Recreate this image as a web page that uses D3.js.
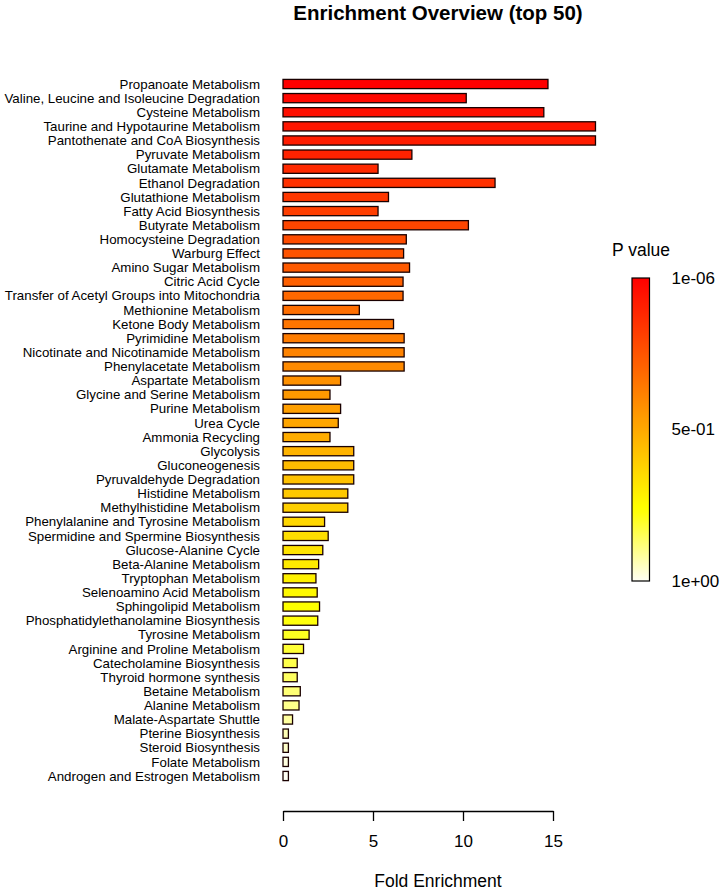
<!DOCTYPE html>
<html>
<head>
<meta charset="utf-8">
<script src="https://cdn.jsdelivr.net/npm/d3@7"></script>
<style>
  html, body { margin: 0; padding: 0; background: #ffffff; }
  svg { display: block; font-family: "Liberation Sans", Arial, sans-serif; }
</style>
</head>
<body>
<svg id="chart" width="720" height="893"></svg>
<script>
// ---------- data ----------
const categories = [
  "Propanoate Metabolism",
  "Valine, Leucine and Isoleucine Degradation",
  "Cysteine Metabolism",
  "Taurine and Hypotaurine Metabolism",
  "Pantothenate and CoA Biosynthesis",
  "Pyruvate Metabolism",
  "Glutamate Metabolism",
  "Ethanol Degradation",
  "Glutathione Metabolism",
  "Fatty Acid Biosynthesis",
  "Butyrate Metabolism",
  "Homocysteine Degradation",
  "Warburg Effect",
  "Amino Sugar Metabolism",
  "Citric Acid Cycle",
  "Transfer of Acetyl Groups into Mitochondria",
  "Methionine Metabolism",
  "Ketone Body Metabolism",
  "Pyrimidine Metabolism",
  "Nicotinate and Nicotinamide Metabolism",
  "Phenylacetate Metabolism",
  "Aspartate Metabolism",
  "Glycine and Serine Metabolism",
  "Purine Metabolism",
  "Urea Cycle",
  "Ammonia Recycling",
  "Glycolysis",
  "Gluconeogenesis",
  "Pyruvaldehyde Degradation",
  "Histidine Metabolism",
  "Methylhistidine Metabolism",
  "Phenylalanine and Tyrosine Metabolism",
  "Spermidine and Spermine Biosynthesis",
  "Glucose-Alanine Cycle",
  "Beta-Alanine Metabolism",
  "Tryptophan Metabolism",
  "Selenoamino Acid Metabolism",
  "Sphingolipid Metabolism",
  "Phosphatidylethanolamine Biosynthesis",
  "Tyrosine Metabolism",
  "Arginine and Proline Metabolism",
  "Catecholamine Biosynthesis",
  "Thyroid hormone synthesis",
  "Betaine Metabolism",
  "Alanine Metabolism",
  "Malate-Aspartate Shuttle",
  "Pterine Biosynthesis",
  "Steroid Biosynthesis",
  "Folate Metabolism",
  "Androgen and Estrogen Metabolism"
];

const foldEnrichment = [
  14.72, 10.18, 14.49, 17.36, 17.36, 7.16, 5.28, 11.78, 5.86, 5.28,
  10.30, 6.85, 6.70, 7.03, 6.67, 6.67, 4.24, 6.14, 6.73, 6.73,
  6.73, 3.20, 2.61, 3.20, 3.07, 2.61, 3.93, 3.93, 3.93, 3.60,
  3.60, 2.31, 2.51, 2.21, 1.98, 1.83, 1.90, 2.03, 1.93, 1.45,
  1.14, 0.79, 0.79, 0.96, 0.89, 0.53, 0.30, 0.30, 0.30, 0.30
];

const xTicks = [0, 5, 10, 15];
const legendLabels = ["1e-06", "5e-01", "1e+00"];

const titleText = "Enrichment Overview (top 50)";
const xAxisTitle = "Fold Enrichment";
const legendTitle = "P value";

// ---------- colours (R heat.colors equivalent) ----------
function heatColors(n) {
  const j = Math.floor(n / 4), i = n - j;
  const out = [];
  for (let k = 0; k < i; k++) {
    const h = (i > 1 ? (1 / 6) * k / (i - 1) : 0) * 360;
    out.push(d3.hsl(h, 1, 0.5).formatHex());
  }
  for (let k = 0; k < j; k++) {
    const s0 = 1 - 1 / (2 * j), s1 = 1 / (2 * j);
    const s = j > 1 ? s0 + (s1 - s0) * k / (j - 1) : 0.5;
    out.push(d3.rgb(255, 255, Math.round(255 * (1 - s))).formatHex());
  }
  return out;
}
const barColors = heatColors(categories.length);

// ---------- chart ----------
const svg = d3.select("#chart");

const x = d3.scaleLinear().domain([0, 15]).range([283, 553]);
const y = d3.scalePoint().domain(categories).range([84, 776]);
const barH = 9.2;

// title
svg.append("text")
  .attr("x", 438).attr("y", 20)
  .attr("text-anchor", "middle")
  .attr("font-size", 20.5).attr("font-weight", "bold")
  .attr("fill", "#000")
  .text(titleText);

// bars
svg.append("g").selectAll("rect")
  .data(categories)
  .join("rect")
  .attr("x", x(0))
  .attr("y", d => y(d) - barH / 2)
  .attr("width", (d, i) => x(foldEnrichment[i]) - x(0))
  .attr("height", barH)
  .attr("fill", (d, i) => barColors[i])
  .attr("stroke", "#1a0000")
  .attr("stroke-width", 1.3);

// category labels
svg.append("g").selectAll("text")
  .data(categories)
  .join("text")
  .attr("x", 260)
  .attr("y", d => y(d))
  .attr("dy", "0.35em")
  .attr("text-anchor", "end")
  .attr("font-size", 13.3)
  .attr("fill", "#000")
  .text(d => d);

// x axis
const axis = svg.append("g")
  .attr("transform", "translate(0,811)")
  .call(d3.axisBottom(x).tickValues(xTicks).tickSize(10).tickSizeOuter(0).tickPadding(14).tickFormat(d3.format("d")));
axis.select(".domain").attr("stroke", "#000").attr("stroke-width", 1.3);
axis.selectAll(".tick line").attr("stroke", "#000").attr("stroke-width", 1.3);
axis.selectAll(".tick text")
  .attr("font-size", 17)
  .attr("font-family", "Liberation Sans, Arial, sans-serif")
  .attr("fill", "#000");

svg.append("text")
  .attr("x", 438).attr("y", 887)
  .attr("text-anchor", "middle")
  .attr("font-size", 17.5)
  .attr("fill", "#000")
  .text(xAxisTitle);

// legend
const defs = svg.append("defs");
const grad = defs.append("linearGradient")
  .attr("id", "pgrad")
  .attr("x1", "0").attr("y1", "0").attr("x2", "0").attr("y2", "1");
grad.selectAll("stop")
  .data(barColors)
  .join("stop")
  .attr("offset", (d, i) => i / (barColors.length - 1))
  .attr("stop-color", d => d);

const legTop = 278, legBottom = 581;
const legScale = d3.scalePoint().domain(legendLabels).range([legTop, legBottom]);

svg.append("rect")
  .attr("x", 632).attr("y", legTop)
  .attr("width", 17.5).attr("height", legBottom - legTop)
  .attr("fill", "url(#pgrad)")
  .attr("stroke", "#000")
  .attr("stroke-width", 1.2);

svg.append("g").selectAll("text")
  .data(legendLabels)
  .join("text")
  .attr("x", 671.5)
  .attr("y", d => legScale(d))
  .attr("dy", "0.35em")
  .attr("font-size", 17)
  .attr("fill", "#000")
  .text(d => d);

svg.append("text")
  .attr("x", 612).attr("y", 256)
  .attr("font-size", 17.5)
  .attr("fill", "#000")
  .text(legendTitle);
</script>
</body>
</html>
